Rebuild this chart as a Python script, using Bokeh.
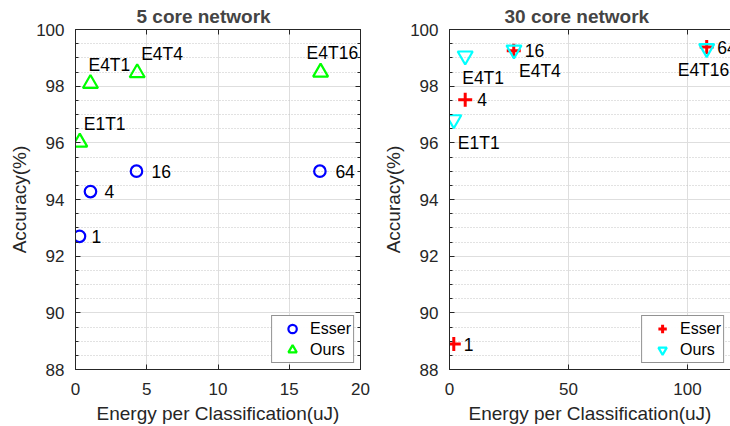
from bokeh.plotting import figure
from bokeh.models import (ColumnDataSource, LinearAxis, SingleIntervalTicker,
                          Range1d, Legend, LegendItem)
from bokeh.layouts import row
from bokeh.embed import file_html
from bokeh.resources import INLINE
from bokeh.core.properties import value

# ---------------- data: 5 core network ----------------
esser5_energy = [0.28, 1.05, 4.28, 17.15]
esser5_acc = [92.7, 94.28, 95.0, 95.0]
esser5_text = ["1", "4", "16", "64"]
ours5_energy = [0.3, 1.05, 4.33, 17.2]
ours5_acc = [96.02, 98.09, 98.47, 98.49]
ours5_text = ["E1T1", "E4T1", "E4T4", "E4T16"]

# ---------------- data: 30 core network ----------------
esser30_energy = [1.8, 6.6, 27.0, 108.1]
esser30_acc = [88.9, 97.52, 99.25, 99.38]
esser30_text = ["1", "4", "16", "64"]
ours30_energy = [1.8, 6.6, 27.1, 108.1]
ours30_acc = [96.82, 99.07, 99.28, 99.33]
ours30_text = ["E1T1", "E4T1", "E4T4", "E4T16"]

# tick values
y_ticks = [88, 90, 92, 94, 96, 98, 100]
x5_ticks = [0, 5, 10, 15, 20]
x30_ticks = [0, 50, 100]

# label offsets (screen px)
esser5_dx = [12, 14, 15, 15.5]
ours5_dx = [4, -2, 4, -14]
ours5_dy = [-18.5, -18.5, -19, -19.3]
esser30_dx = [10, 12, 11, 10.5]
ours30_dx = [4, -3, 5, -29]
ours30_dy = [23, 22, 21.5, 22]

FONT = "Liberation Sans"
AX = "#262626"


def style_axis(ax, blank_ticks=None):
    ax.axis_line_color = AX
    ax.major_tick_line_color = AX
    ax.minor_tick_line_color = AX
    ax.major_tick_in = 5
    ax.major_tick_out = 0
    ax.minor_tick_in = 3
    ax.minor_tick_out = 0
    if blank_ticks is None:
        ax.major_label_text_font = FONT
        ax.major_label_text_font_size = "17px"
        ax.major_label_text_color = AX
        ax.axis_label_text_font = FONT
        ax.axis_label_text_font_size = "19px"
        ax.axis_label_text_font_style = "normal"
        ax.axis_label_text_color = AX
    else:
        ax.major_label_overrides = {v: "" for v in blank_ticks}
        ax.major_label_text_font_size = "1px"
        ax.major_label_standoff = 0


def make_fig(title, x_end, x_int, x_ticks, width, bl, br, toff, mirror_right):
    p = figure(width=width, height=426, x_range=Range1d(0, x_end),
               y_range=Range1d(88, 100), output_backend="svg",
               toolbar_location=None, min_border_left=bl, min_border_right=br,
               min_border_top=28, min_border_bottom=56,
               x_axis_label="Energy per Classification(uJ)",
               y_axis_label="Accuracy(%)")
    p.outline_line_color = None
    p.title.text = title
    p.title.text_font = FONT
    p.title.text_font_size = "19px"
    p.title.text_font_style = "bold"
    p.title.align = "left"
    p.title.offset = toff
    p.title.standoff = 6
    xt = SingleIntervalTicker(interval=x_int, num_minor_ticks=0)
    yt = SingleIntervalTicker(interval=2, num_minor_ticks=4)
    p.xaxis.ticker = xt
    p.yaxis.ticker = yt
    p.xgrid.ticker = xt
    p.ygrid.ticker = yt
    style_axis(p.xaxis[0])
    style_axis(p.yaxis[0])
    p.xaxis.major_label_standoff = 13
    p.xaxis.axis_label_standoff = 5
    p.yaxis.major_label_standoff = 11
    p.yaxis.axis_label_standoff = 3
    top = LinearAxis(ticker=xt)
    style_axis(top, blank_ticks=x_ticks)
    p.add_layout(top, "above")
    if mirror_right:
        rt = LinearAxis(ticker=yt)
        style_axis(rt, blank_ticks=y_ticks)
        p.add_layout(rt, "right")
    p.xgrid.grid_line_color = "#dedede"
    p.ygrid.grid_line_color = "#dedede"
    p.ygrid.minor_grid_line_color = "#c4c4c4"
    p.ygrid.minor_grid_line_dash = "1 2"
    return p


def add_legend(p, r1, r2):
    leg = Legend(items=[LegendItem(label="Esser", renderers=[r1]),
                        LegendItem(label="Ours", renderers=[r2])],
                 location="bottom_right", padding=2, spacing=0,
                 glyph_width=36, glyph_height=21, label_height=21,
                 label_standoff=0, label_text_font=FONT,
                 label_text_font_size="16px", label_text_color="black",
                 border_line_color=AX, border_line_width=1, margin=6)
    p.add_layout(leg)


# ---------------- left: 5 core ----------------
p1 = make_fig("5 core network", 20, 5, x5_ticks, 370, 75, 10, 61, True)
s_e5 = ColumnDataSource(dict(x=esser5_energy, y=esser5_acc, t=esser5_text,
                             dx=esser5_dx))
s_o5 = ColumnDataSource(dict(x=ours5_energy, y=ours5_acc, t=ours5_text,
                             dx=ours5_dx, dy=ours5_dy))
r_e5 = p1.scatter("x", "y", source=s_e5, marker="circle", size=11.5,
                  fill_color=None, line_color="#0000ff", line_width=2.2)
r_o5 = p1.scatter("x", "y", source=s_o5, marker="triangle", size=15,
                  fill_color=None, line_color="#00ff00", line_width=2.2)
p1.text("x", "y", text="t", source=s_e5, x_offset="dx",
        text_font=value(FONT), text_font_size="17.5px", text_color="black",
        text_align="left", text_baseline="middle")
p1.text("x", "y", text="t", source=s_o5, x_offset="dx", y_offset="dy",
        text_font=value(FONT), text_font_size="17.5px", text_color="black",
        text_align="left", text_baseline="middle")
add_legend(p1, r_e5, r_o5)

# ---------------- right: 30 core ----------------
p2 = make_fig("30 core network", 118.1, 50, x30_ticks, 360, 79, 0, 55, False)
s_e30 = ColumnDataSource(dict(x=esser30_energy, y=esser30_acc, t=esser30_text,
                              dx=esser30_dx))
s_o30 = ColumnDataSource(dict(x=ours30_energy, y=ours30_acc, t=ours30_text,
                              dx=ours30_dx, dy=ours30_dy))
r_e30 = p2.scatter("x", "y", source=s_e30, marker="cross", size=14,
                   line_color="#ff0000", line_width=3)
r_o30 = p2.scatter("x", "y", source=s_o30, marker="inverted_triangle",
                   size=15, fill_color=None, line_color="#00ffff",
                   line_width=2.2)
p2.text("x", "y", text="t", source=s_e30, x_offset="dx",
        text_font=value(FONT), text_font_size="17.5px", text_color="black",
        text_align="left", text_baseline="middle")
p2.text("x", "y", text="t", source=s_o30, x_offset="dx", y_offset="dy",
        text_font=value(FONT), text_font_size="17.5px", text_color="black",
        text_align="left", text_baseline="middle")
add_legend(p2, r_e30, r_o30)

layout = row(p1, p2)
open("out.html", "w").write(file_html(layout, INLINE))
